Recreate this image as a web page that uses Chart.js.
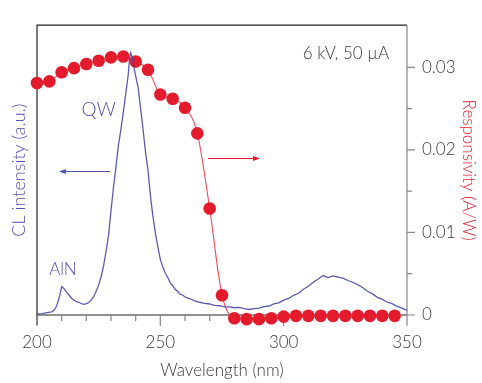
<!DOCTYPE html>
<html lang="en">
<head>
<meta charset="UTF-8">
<title>CL spectrum and responsivity</title>
<style>
  html, body { margin: 0; padding: 0; background: #fff; }
  #wrap { width: 482px; height: 383px; position: relative; }
</style>
</head>
<body>
<div id="wrap"><canvas id="chart"></canvas></div>
<script src="https://cdn.jsdelivr.net/npm/chart.js"></script>
<script>
// cathodoluminescence spectrum, arbitrary units
const clWavelength = [200, 202, 204, 206, 207, 208, 209, 210, 211, 212, 213, 214, 215, 216, 217, 218, 219, 220,
  221, 222, 223, 224, 225, 226, 227, 228, 229, 230, 231, 232, 233, 234, 235, 236, 237, 237.5, 238, 238.5, 239,
  240, 241, 242, 243, 244, 245, 246, 247, 248, 249, 250, 251, 252, 253, 254, 255, 256, 257, 258, 259, 260,
  262, 264, 266, 268, 270, 272, 274, 276, 278, 280, 282, 284, 286, 288, 290, 292, 294, 296, 298, 300,
  302, 304, 306, 308, 310, 312, 314, 316, 318, 320, 322, 324, 326, 328, 330, 332, 334, 336, 338, 340,
  342, 344, 346, 348, 350];
const clIntensity = [0.004, 0.005, 0.008, 0.011, 0.017, 0.032, 0.060, 0.098, 0.091, 0.078, 0.069, 0.058, 0.052, 0.046, 0.044, 0.039, 0.037, 0.039,
  0.043, 0.052, 0.064, 0.082, 0.104, 0.132, 0.170, 0.220, 0.275, 0.360, 0.440, 0.510, 0.585, 0.640, 0.700, 0.765, 0.830, 0.885, 0.905, 0.890, 0.868,
  0.825, 0.785, 0.712, 0.640, 0.562, 0.500, 0.410, 0.340, 0.282, 0.235, 0.192, 0.166, 0.144, 0.130, 0.111, 0.101, 0.089, 0.082, 0.072, 0.069, 0.062,
  0.056, 0.049, 0.044, 0.040, 0.038, 0.033, 0.032, 0.028, 0.028, 0.025, 0.026, 0.022, 0.019, 0.022, 0.024, 0.029, 0.031, 0.038, 0.042, 0.051,
  0.057, 0.068, 0.075, 0.089, 0.099, 0.113, 0.124, 0.136, 0.129, 0.135, 0.131, 0.127, 0.119, 0.113, 0.105, 0.095, 0.082, 0.073, 0.061, 0.054,
  0.044, 0.039, 0.030, 0.024, 0.016];

// photodetector responsivity, A/W
const respWavelength = [200, 205, 210, 215, 220, 225, 230, 235, 240, 245, 250, 255, 260, 265, 270,
  275, 280, 285, 290, 295, 300, 305, 310, 315, 320, 325, 330, 335, 340, 345];
const responsivity = [0.0281, 0.0283, 0.0294, 0.0299, 0.0304, 0.0308, 0.0312, 0.0313, 0.0307, 0.0297, 0.0267, 0.0262, 0.0251, 0.0220, 0.0129,
  0.0024, -0.0004, -0.0005, -0.0005, -0.0004, -0.0002, -0.0001, -0.0001, -0.0001, -0.0001, -0.0001, -0.0001, -0.0001, -0.0001, -0.0001];

const xTicks = [200, 250, 300, 350];
const xMinorTicks = [210, 220, 230, 240, 260, 270, 280, 290, 310, 320, 330, 340];
const respTicks = [0, 0.01, 0.02, 0.03];
const respTickLabels = ['0', '0.01', '0.02', '0.03'];
const respMinorTicks = [0.005, 0.015, 0.025];

const BLUE = '#5252b0';
const RED = '#e31b2c';
const TEXT = '#3a3a3a';
const FONT = 'Lato, "DejaVu Sans", sans-serif';

// axes frame and tick marks, drawn under the data
const framePlugin = {
  id: 'frame',
  beforeDatasetsDraw(chart) {
    const { ctx, chartArea: a, scales } = chart;
    const xs = scales.x, ys = scales.yResp;
    ctx.save();
    ctx.lineWidth = 1.2;
    ctx.strokeStyle = '#222';
    ctx.beginPath();
    ctx.moveTo(a.left, a.bottom + 10);
    ctx.lineTo(a.left, a.top);
    ctx.lineTo(a.right, a.top);
    ctx.moveTo(a.left, a.bottom);
    ctx.lineTo(a.right, a.bottom);
    ctx.stroke();

    ctx.strokeStyle = '#888';
    ctx.beginPath();
    ctx.moveTo(a.right, a.top);
    ctx.lineTo(a.right, a.bottom + 11);
    xTicks.forEach(v => {
      const px = xs.getPixelForValue(v);
      ctx.moveTo(px, a.bottom); ctx.lineTo(px, a.bottom + 11);
    });
    xMinorTicks.forEach(v => {
      const px = xs.getPixelForValue(v);
      ctx.moveTo(px, a.bottom); ctx.lineTo(px, a.bottom + 6);
    });
    respTicks.forEach(v => {
      const py = ys.getPixelForValue(v);
      ctx.moveTo(a.right, py); ctx.lineTo(a.right + 8, py);
    });
    respMinorTicks.forEach(v => {
      const py = ys.getPixelForValue(v);
      ctx.moveTo(a.right, py); ctx.lineTo(a.right + 5, py);
    });
    ctx.stroke();
    ctx.restore();
  }
};

// labels (placed by baseline) and direction arrows inside the plot
const notes = [
  { text: 'QW', x: 225, y: 0.6875, color: BLUE, size: 19, align: 'center' },
  { text: 'AlN', x: 210.5, y: 0.137, color: BLUE, size: 17, align: 'center' },
  { text: '6 kV, 50 \u00b5A', x: 342.8, y: 0.882, color: TEXT, size: 17, align: 'right' }
];
const arrows = [
  { from: 229.6, to: 208.9, y: 0.497, color: BLUE },
  { from: 269.4, to: 290.4, y: 0.543, color: RED }
];

const notesPlugin = {
  id: 'notes',
  afterDatasetsDraw(chart) {
    const { ctx, scales } = chart;
    const xs = scales.x, ys = scales.yCL;
    ctx.save();
    notes.forEach(n => {
      ctx.font = '300 ' + n.size + 'px ' + FONT;
      ctx.fillStyle = n.color;
      ctx.textAlign = n.align;
      ctx.textBaseline = 'alphabetic';
      ctx.fillText(n.text, xs.getPixelForValue(n.x), ys.getPixelForValue(n.y));
    });
    arrows.forEach(ar => {
      const x0 = xs.getPixelForValue(ar.from);
      const x1 = xs.getPixelForValue(ar.to);
      const y = Math.round(ys.getPixelForValue(ar.y)) + 0.5;
      const dir = Math.sign(x1 - x0);
      ctx.strokeStyle = ar.color;
      ctx.fillStyle = ar.color;
      ctx.lineWidth = 1.2;
      ctx.beginPath();
      ctx.moveTo(x0, y);
      ctx.lineTo(x1 - dir * 4, y);
      ctx.stroke();
      ctx.beginPath();
      ctx.moveTo(x1, y);
      ctx.lineTo(x1 - dir * 7, y - 2.6);
      ctx.lineTo(x1 - dir * 7, y + 2.6);
      ctx.closePath();
      ctx.fill();
    });
    ctx.restore();
  }
};

const tickFont = { family: FONT, size: 17, weight: '300' };

new Chart(document.getElementById('chart'), {
  type: 'line',
  data: {
    datasets: [
      {
        label: 'CL intensity',
        data: clWavelength.map((w, i) => ({ x: w, y: clIntensity[i] })),
        yAxisID: 'yCL',
        borderColor: 'rgba(72, 72, 168, 0.9)',
        borderWidth: 1.3,
        pointRadius: 0,
        tension: 0
      },
      {
        label: 'Responsivity',
        data: respWavelength.map((w, i) => ({ x: w, y: responsivity[i] })),
        yAxisID: 'yResp',
        borderColor: '#ee4b58',
        borderWidth: 1.1,
        pointRadius: 6.3,
        pointBorderWidth: 0,
        pointBackgroundColor: RED,
        cubicInterpolationMode: 'monotone',
        clip: false
      }
    ]
  },
  options: {
    responsive: true,
    maintainAspectRatio: false,
    animation: false,
    layout: { padding: { top: 11, left: 0, right: 0, bottom: 0 } },
    plugins: { legend: { display: false }, tooltip: { enabled: false } },
    scales: {
      x: {
        type: 'linear',
        min: 200,
        max: 350,
        afterBuildTicks: s => { s.ticks = xTicks.map(v => ({ value: v })); },
        afterFit: s => { s.height = 68; },
        grid: { display: false, drawTicks: false },
        border: { display: false },
        ticks: { padding: 17, color: TEXT, font: tickFont },
        title: {
          display: true,
          text: 'Wavelength (nm)',
          color: TEXT,
          font: tickFont,
          padding: { top: 0, bottom: 2 }
        }
      },
      yCL: {
        position: 'left',
        min: 0,
        max: 1,
        afterFit: s => { s.width = 37; },
        grid: { display: false, drawTicks: false },
        border: { display: false },
        ticks: { display: false },
        title: {
          display: true,
          text: 'CL intensity (a.u.)',
          color: BLUE,
          font: { family: FONT, size: 18, weight: '300' },
          padding: { top: 8, bottom: 0 }
        }
      },
      yResp: {
        position: 'right',
        min: 0,
        max: 0.0351,
        afterBuildTicks: s => { s.ticks = respTicks.map(v => ({ value: v })); },
        afterFit: s => { s.width = 75; },
        grid: { display: false, drawTicks: false },
        border: { display: false },
        ticks: {
          padding: 15,
          color: TEXT,
          font: tickFont,
          callback: (v, i) => respTickLabels[i]
        },
        title: {
          display: true,
          text: 'Responsivity (A/W)',
          color: RED,
          font: tickFont,
          padding: { top: 3, bottom: 0 }
        }
      }
    }
  },
  plugins: [framePlugin, notesPlugin]
});
</script>
</body>
</html>
